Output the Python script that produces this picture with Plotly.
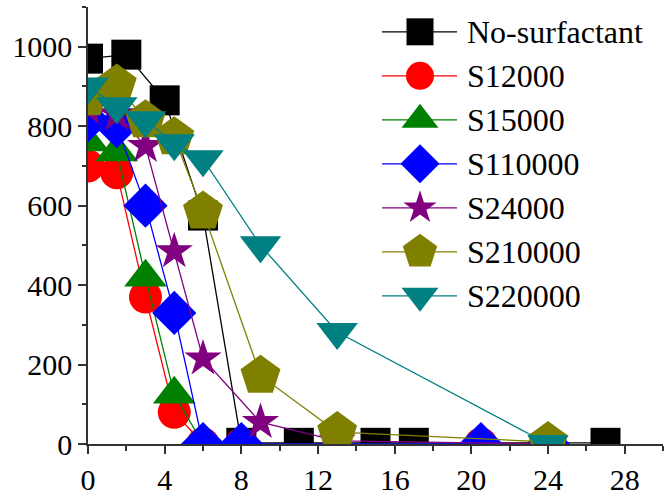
import plotly.graph_objects as go

# ---- data -------------------------------------------------------------
series_names = ["No-surfactant", "S12000", "S15000", "S110000",
                "S24000", "S210000", "S220000"]

x_none = [0, 2, 4, 6, 8, 11, 15, 17, 27]
y_none = [970, 980, 865, 575, 3, 3, 3, 3, 3]

x_s1 = [0, 1.5, 3, 4.5, 6, 8, 20.5, 24]
y_s12000 = [700, 683, 370, 80, 0, 0, 0, 0]
y_s15000 = [760, 735, 420, 125, 0, 0, 0, 0]
y_s110000 = [815, 800, 600, 330, 0, 0, 0, 0]

x_s2 = [0, 1.5, 3, 4.5, 6, 9, 13, 24]
y_s24000 = [845, 830, 750, 485, 215, 55, 8, 0]
y_s210000 = [870, 905, 815, 772, 585, 172, 30, 5]
y_s220000 = [900, 850, 815, 757, 717, 500, 282, 0]

x_tick_vals = [0, 4, 8, 12, 16, 20, 24, 28]
y_tick_vals = [0, 200, 400, 600, 800, 1000]

# ---- styles -------------------------------------------------------------
colors = ["#000000", "#ff0000", "#008000", "#0000ff",
          "#800080", "#808000", "#008080"]
symbols = ["square", "circle", "triangle-up", "diamond",
           "star", "pentagon", "triangle-down"]
sizes = [30, 33, 37, 34, 28, 42, 36]
legend_sizes = [27, 28, 32, 30, 25, 36, 32]

xs = [x_none, x_s1, x_s1, x_s1, x_s2, x_s2, x_s2]
ys = [y_none, y_s12000, y_s15000, y_s110000, y_s24000, y_s210000, y_s220000]

FONT = "'Liberation Serif', Tinos, 'DejaVu Serif', 'Noto Serif', serif"
W, H = 664, 497
L, R, T, B = 88, 1, 7, 50

fig = go.Figure()
for name, x, y, c, s, sz in zip(series_names, xs, ys, colors, symbols, sizes):
    fig.add_trace(go.Scatter(
        x=x, y=y, name=name, mode="lines+markers",
        line=dict(color=c, width=1.3),
        marker=dict(symbol=s, size=sz, color=c, opacity=1, line=dict(width=0)),
        showlegend=False,
    ))

# ---- legend drawn on a pixel-space overlay axis --------------------------
leg_x0, leg_x1, leg_xm, leg_text_x = 382, 457, 420, 465
leg_y0, leg_dy = 32, 44.3
for i, (name, c, s, sz) in enumerate(zip(series_names, colors, symbols, legend_sizes)):
    yy = leg_y0 + i * leg_dy
    fig.add_trace(go.Scatter(
        x=[leg_x0, leg_x1], y=[yy, yy],
        xaxis="x2", yaxis="y2", mode="lines",
        line=dict(color=c, width=1.3),
        showlegend=False, cliponaxis=False, hoverinfo="skip",
    ))
    fig.add_trace(go.Scatter(
        x=[leg_xm], y=[yy],
        xaxis="x2", yaxis="y2", mode="markers",
        marker=dict(symbol=s, size=sz, color=c, opacity=1, line=dict(width=0)),
        showlegend=False, cliponaxis=False, hoverinfo="skip",
    ))
    fig.add_annotation(
        x=leg_text_x, y=yy, xref="x2", yref="y2", text=name,
        showarrow=False, xanchor="left", yanchor="middle",
        font=dict(family=FONT, size=32, color="black"),
    )

axis_common = dict(
    showgrid=False, zeroline=False, showline=True,
    linecolor="#333333", linewidth=1.5,
    ticks="outside", tickcolor="#333333", tickwidth=1.5, ticklen=8,
    tickfont=dict(family=FONT, size=30, color="black"),
)

fig.update_layout(
    width=W, height=H,
    margin=dict(l=L, r=R, t=T, b=B),
    paper_bgcolor="white", plot_bgcolor="white",
    font=dict(family=FONT),
    xaxis=dict(range=[0, 30], tickvals=x_tick_vals,
               minor=dict(dtick=2, ticklen=5, ticks="outside",
                          tickcolor="#333333", tickwidth=1.5),
               **axis_common),
    yaxis=dict(range=[0, 1100], tickvals=y_tick_vals,
               minor=dict(dtick=100, ticklen=4, ticks="outside",
                          tickcolor="#333333", tickwidth=1.5),
               **axis_common),
    xaxis2=dict(range=[L, W - R], overlaying="x", anchor="y2", visible=False),
    yaxis2=dict(range=[H - B, T], overlaying="y", anchor="x2", visible=False),
)

fig.write_html("out.html")
